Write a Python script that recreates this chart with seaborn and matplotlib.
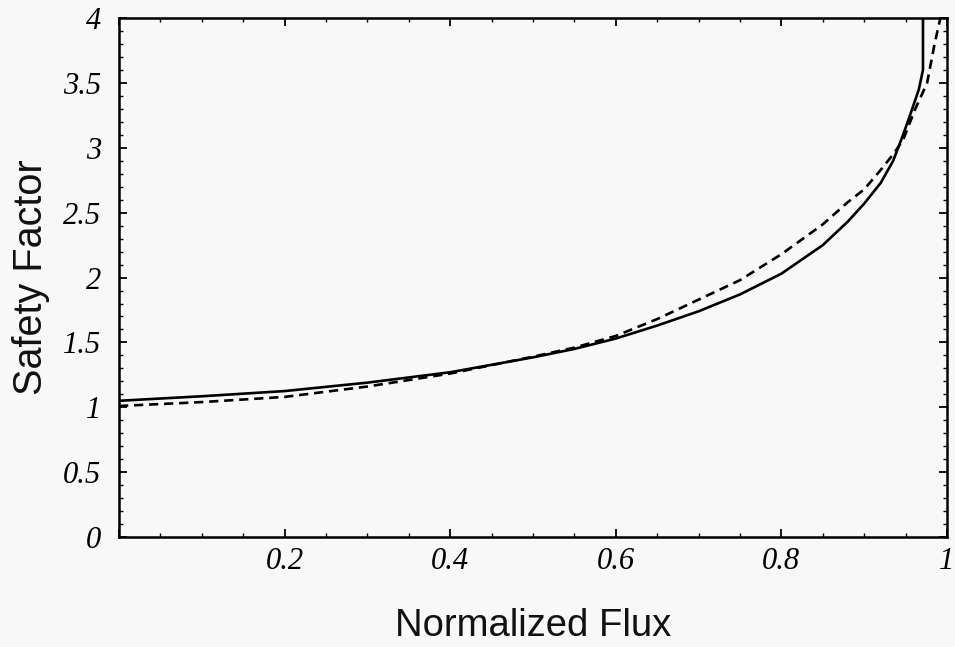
import matplotlib
matplotlib.use("Agg")
import matplotlib.pyplot as plt
import seaborn as sns
import pandas as pd
from matplotlib.ticker import MultipleLocator, FuncFormatter

# Data
solid_x = [0.0, 0.1, 0.2, 0.3, 0.4, 0.5, 0.55, 0.6, 0.65, 0.7, 0.75, 0.8, 0.85, 0.88, 0.9, 0.92, 0.935, 0.947, 0.958, 0.966, 0.971, 0.971]
solid_y = [1.05, 1.085, 1.125, 1.19, 1.27, 1.385, 1.45, 1.53, 1.63, 1.74, 1.87, 2.03, 2.25, 2.43, 2.57, 2.73, 2.9, 3.1, 3.3, 3.45, 3.6, 4.0]
dash_x = [0.0, 0.1, 0.2, 0.3, 0.4, 0.5, 0.55, 0.6, 0.65, 0.7, 0.75, 0.8, 0.85, 0.88, 0.9, 0.92, 0.935, 0.947, 0.961, 0.976, 0.985, 0.992]
dash_y = [1.01, 1.04, 1.08, 1.16, 1.26, 1.39, 1.46, 1.55, 1.68, 1.83, 1.98, 2.18, 2.41, 2.58, 2.68, 2.83, 2.95, 3.06, 3.29, 3.5, 3.8, 4.0]

sns.set_style("ticks")
bg = "#f8f8f8"
fig = plt.figure(figsize=(9.55, 6.47), dpi=100, facecolor=bg)
ax = fig.add_axes([0.1246, 0.170, 0.867, 0.802])
ax.set_facecolor(bg)

df_s = pd.DataFrame({"x": solid_x, "y": solid_y})
df_d = pd.DataFrame({"x": dash_x, "y": dash_y})
sns.lineplot(data=df_s, x="x", y="y", ax=ax, color="black", lw=1.9, sort=False, estimator=None)
sns.lineplot(data=df_d, x="x", y="y", ax=ax, color="black", lw=1.9, sort=False, estimator=None,
             linestyle=(0, (3.5, 2.2)))

ax.set_xlim(0, 1)
ax.set_ylim(0, 4)
ax.xaxis.set_major_locator(MultipleLocator(0.2))
ax.xaxis.set_minor_locator(MultipleLocator(0.05))
ax.yaxis.set_major_locator(MultipleLocator(0.5))
ax.yaxis.set_minor_locator(MultipleLocator(0.1))

def fmt_x(v, p):
    if abs(v) < 1e-9:
        return ""
    s = f"{v:.1f}"
    return "1" if s == "1.0" else s

def fmt_y(v, p):
    s = f"{v:.1f}"
    return s[:-2] if s.endswith(".0") else s

ax.xaxis.set_major_formatter(FuncFormatter(fmt_x))
ax.yaxis.set_major_formatter(FuncFormatter(fmt_y))

ax.tick_params(which="both", direction="in", top=True, right=True, color="black", labelcolor="black")
ax.tick_params(which="major", length=6, width=1.3)
ax.tick_params(which="minor", length=3, width=1.0)
ax.tick_params(axis="x", which="major", pad=7)
ax.tick_params(axis="y", which="major", pad=13)
for lab in ax.get_xticklabels() + ax.get_yticklabels():
    lab.set_family("Liberation Serif")
    lab.set_style("italic")
    lab.set_fontsize(22)
for sp in ax.spines.values():
    sp.set_visible(True)
    sp.set_linewidth(1.8)
    sp.set_color("black")

ax.set_xlabel("Normalized Flux", family="Liberation Sans", fontsize=27.5, labelpad=23, color="#111111")
ax.set_ylabel("Safety Factor", family="Liberation Sans", fontsize=28.5, labelpad=9, color="#111111")

fig.savefig("out.png", dpi=100, facecolor=bg)
